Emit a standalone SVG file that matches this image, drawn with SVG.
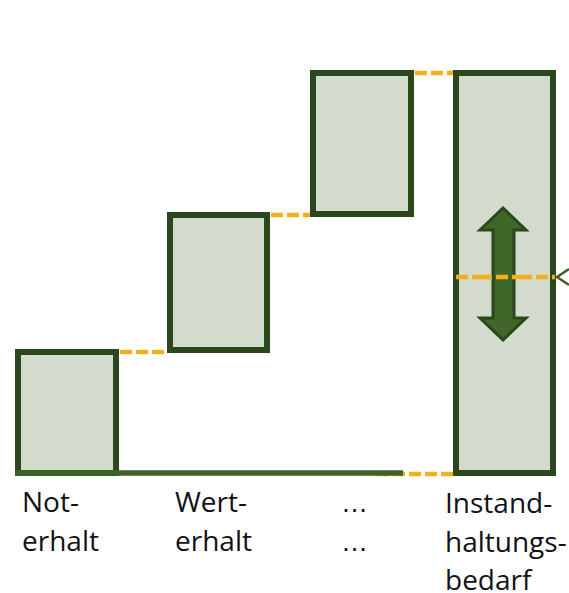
<svg xmlns="http://www.w3.org/2000/svg" width="569" height="593" viewBox="0 0 569 593">
<style>
.box{fill:#d3dbcc;stroke:#2c471d;stroke-width:6}
.dash{stroke:#f0b01c;stroke-width:4.5;stroke-dasharray:12 4;fill:none}
.lbl{font-family:"Open Sans","Liberation Sans",sans-serif;font-size:28px;fill:#111118}
.ell{font-family:"Liberation Sans",sans-serif;font-size:27px;fill:#111118}
</style>
<rect width="569" height="593" fill="#ffffff"/>
<g id="connectors">
<line class="dash" x1="120" y1="352" x2="167" y2="352"/>
<line class="dash" x1="271" y1="215" x2="310" y2="215"/>
<line class="dash" x1="415" y1="73" x2="453" y2="73"/>
<line class="dash" x1="377" y1="474" x2="453" y2="474"/>
<line x1="15" y1="473" x2="403" y2="473" stroke="#3d6125" stroke-width="5.5"/>
<polyline points="569,269 557,277 569,285" fill="none" stroke="#3d6125" stroke-width="2.5"/>
</g>
<g id="not-erhalt">
<rect class="box" x="18" y="352" width="98" height="121"/>
<line x1="15" y1="473" x2="119" y2="473" stroke="#3d6125" stroke-width="6"/>
<text class="lbl" x="22" y="512">Not-</text>
<text class="lbl" x="22" y="551">erhalt</text>
</g>
<g id="wert-erhalt">
<rect class="box" x="170" y="215" width="97" height="135"/>
<text class="lbl" x="175" y="512">Wert-</text>
<text class="lbl" x="175" y="551">erhalt</text>
</g>
<g id="dots">
<rect class="box" x="313" y="73" width="98" height="141"/>
<text class="ell" x="341" y="512">…</text>
<text class="ell" x="341" y="551">…</text>
</g>
<g id="instandhaltungsbedarf">
<rect class="box" x="456" y="73" width="97" height="400"/>
<line class="dash" x1="456" y1="277" x2="555" y2="277"/>
<text class="lbl" x="445" y="513">Instand-</text>
<text class="lbl" x="445" y="552">haltungs-</text>
<text class="lbl" x="445" y="590">bedarf</text>
</g>
<g id="arrow">
<polygon points="503,208 526,230 514,230 514,318 526,318 503,340 480,318 493,318 493,230 480,230" fill="#41662a" stroke="#2b471b" stroke-width="3" stroke-linejoin="miter"/>
<line class="dash" x1="480" y1="277" x2="527" y2="277"/>
</g>
</svg>
